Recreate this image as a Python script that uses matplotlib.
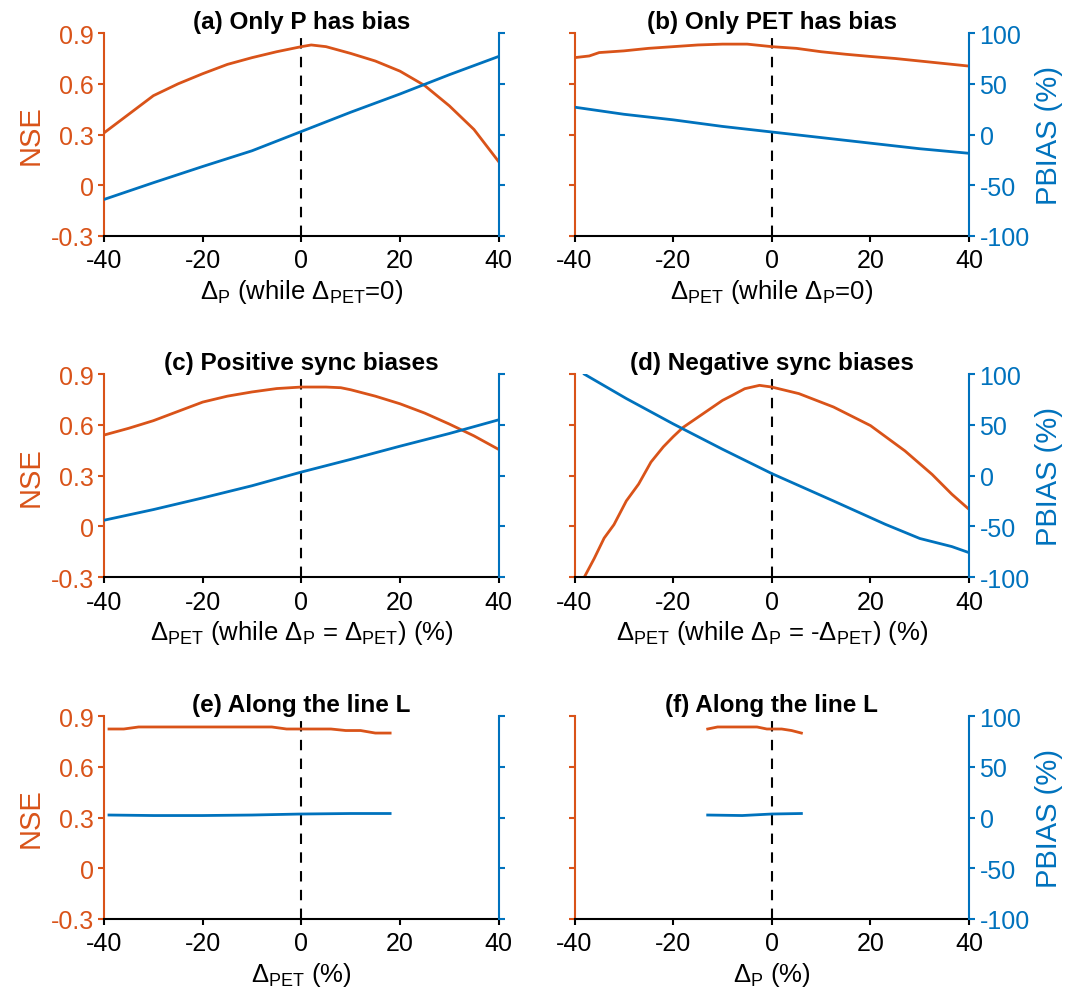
import numpy as np
import matplotlib.pyplot as plt

plt.rcParams['font.family'] = ['Liberation Sans', 'DejaVu Sans']
plt.rcParams['mathtext.fontset'] = 'custom'
plt.rcParams['mathtext.rm'] = 'Liberation Sans'
plt.rcParams['mathtext.it'] = 'Liberation Sans:italic'
plt.rcParams['axes.unicode_minus'] = False

orange = '#D95319'
blue = '#0072BD'

# (a) only P has bias
a_x = [-40, -35, -30, -25, -20, -15, -10, -5, 0, 2, 5, 10, 15, 20, 25, 30, 35, 40]
a_nse = [0.31, 0.42, 0.53, 0.60, 0.66, 0.715, 0.755, 0.79, 0.82, 0.83, 0.82, 0.78, 0.735, 0.675, 0.59, 0.47, 0.33, 0.14]
a_pbx = [-40, -30, -20, -10, 0, 10, 20, 30, 40]
a_pb = [-64, -47.5, -31.5, -16, 3, 22, 40, 59, 77]

# (b) only PET has bias
b_x = [-40, -37, -35, -30, -25, -20, -15, -10, -5, 0, 5, 10, 15, 20, 25, 30, 35, 40]
b_nse = [0.755, 0.765, 0.785, 0.795, 0.81, 0.82, 0.83, 0.835, 0.835, 0.82, 0.81, 0.79, 0.775, 0.762, 0.75, 0.735, 0.72, 0.705]
b_pbx = [-40, -30, -20, -10, 0, 10, 20, 30, 40]
b_pb = [27, 20, 14.5, 8, 2.5, -3, -8.5, -14, -18.5]

# (c) positive sync biases
c_x = [-40, -35, -30, -25, -20, -15, -10, -5, 0, 5, 8, 10, 15, 20, 25, 30, 35, 40]
c_nse = [0.54, 0.58, 0.625, 0.68, 0.735, 0.77, 0.795, 0.815, 0.824, 0.824, 0.82, 0.808, 0.77, 0.725, 0.67, 0.605, 0.535, 0.455]
c_pbx = [-40, -30, -20, -10, 0, 10, 20, 30, 40]
c_pb = [-44, -33.5, -22, -10, 3.5, 16, 29, 41.5, 55]

# (d) negative sync biases
d_x = [-38, -36, -34, -32, -29.5, -27, -24.5, -22, -20, -18, -15, -13, -10, -8, -5.5, -2.5,
       0, 5.5, 12.5, 20, 27, 32.5, 36.5, 40]
d_nse = [-0.30, -0.19, -0.07, 0.01, 0.15, 0.25, 0.38, 0.47, 0.53, 0.585, 0.645, 0.685, 0.745, 0.775,
         0.814, 0.834, 0.824, 0.785, 0.706, 0.596, 0.446, 0.307, 0.19, 0.10]
d_pbx = [-38, -29.5, -20, -10, 0, 12.5, 23, 30, 36.5, 40]
d_pb = [100, 76, 51, 26, 2, -25, -48, -62, -70, -76]

# (e) along the line L, vs dPET
e_x = [-39, -36, -33, -20, -6, -3, 6, 9, 12, 15, 18]
e_nse = [0.824, 0.824, 0.836, 0.836, 0.836, 0.824, 0.824, 0.815, 0.815, 0.80, 0.80]
e_pbx = [-39, -30, -20, -10, 0, 10, 18]
e_pb = [2.5, 2, 2, 2.5, 3.5, 4, 4]

# (f) along the line L, vs dP
f_x = [-13, -11, -3, -1, 2, 4, 6]
f_nse = [0.824, 0.836, 0.836, 0.824, 0.824, 0.815, 0.80]
f_pbx = [-13, -6, 0, 6]
f_pb = [2.5, 2, 3.5, 4]

titles = ['(a) Only P has bias', '(b) Only PET has bias', '(c) Positive sync biases',
          '(d) Negative sync biases', '(e) Along the line L', '(f) Along the line L']
xlabels = [r'$\Delta_{\rm P}$ (while $\Delta_{\rm PET}$=0)',
           r'$\Delta_{\rm PET}$ (while $\Delta_{\rm P}$=0)',
           r'$\Delta_{\rm PET}$ (while $\Delta_{\rm P}$ = $\Delta_{\rm PET}$) (%)',
           r'$\Delta_{\rm PET}$ (while $\Delta_{\rm P}$ = -$\Delta_{\rm PET}$) (%)',
           r'$\Delta_{\rm PET}$ (%)',
           r'$\Delta_{\rm P}$ (%)']
series = [(a_x, a_nse, a_pbx, a_pb), (b_x, b_nse, b_pbx, b_pb), (c_x, c_nse, c_pbx, c_pb),
          (d_x, d_nse, d_pbx, d_pb), (e_x, e_nse, e_pbx, e_pb), (f_x, f_nse, f_pbx, f_pb)]

fig = plt.figure(figsize=(10.84, 10.04), dpi=100)
lefts = [0.096, 0.530]
bottoms = [0.764, 0.4243, 0.0837]
w, h = 0.364, 0.202

for i in range(6):
    row, col = i // 2, i % 2
    ax = fig.add_axes([lefts[col], bottoms[row], w, h])
    tw = ax.twinx()
    xs, nse, pbx, pb = series[i]

    ax.axvline(0, color='k', ls='--', lw=1.5, dashes=(5, 4))
    tw.plot(pbx, pb, color=blue, lw=2)
    ax.plot(xs, nse, color=orange, lw=2)

    ax.set_xlim(-40, 40)
    ax.set_xticks([-40, -20, 0, 20, 40])
    ax.set_ylim(-0.3, 0.9)
    ax.set_yticks([-0.3, 0, 0.3, 0.6, 0.9])
    tw.set_ylim(-100, 100)
    tw.set_yticks([-100, -50, 0, 50, 100])

    for s in ['top', 'right']:
        ax.spines[s].set_visible(False)
    for s in ['top', 'left', 'bottom']:
        tw.spines[s].set_visible(False)
    ax.spines['left'].set_color(orange)
    ax.spines['left'].set_linewidth(1.5)
    ax.spines['bottom'].set_linewidth(1.5)
    tw.spines['right'].set_color(blue)
    tw.spines['right'].set_linewidth(1.5)

    ax.tick_params(axis='x', direction='out', length=4, width=1.5, labelsize=18, pad=5)
    ax.tick_params(axis='y', direction='out', length=4, width=1.5, colors=orange, labelsize=18)
    tw.tick_params(axis='y', direction='out', length=4, width=1.5, colors=blue, labelsize=18)
    ax.set_yticklabels(['-0.3', '0', '0.3', '0.6', '0.9'])

    if col == 0:
        ax.set_ylabel('NSE', color=orange, fontsize=21, labelpad=4)
        tw.set_yticklabels([])
    else:
        tw.set_ylabel('PBIAS (%)', color=blue, fontsize=21, labelpad=4)
        ax.set_yticklabels([])

    ax.set_title(titles[i], fontsize=17.5, fontweight='bold', pad=3)
    ax.set_xlabel(xlabels[i], fontsize=18.5, labelpad=3)

fig.savefig('out.png', dpi=100)
